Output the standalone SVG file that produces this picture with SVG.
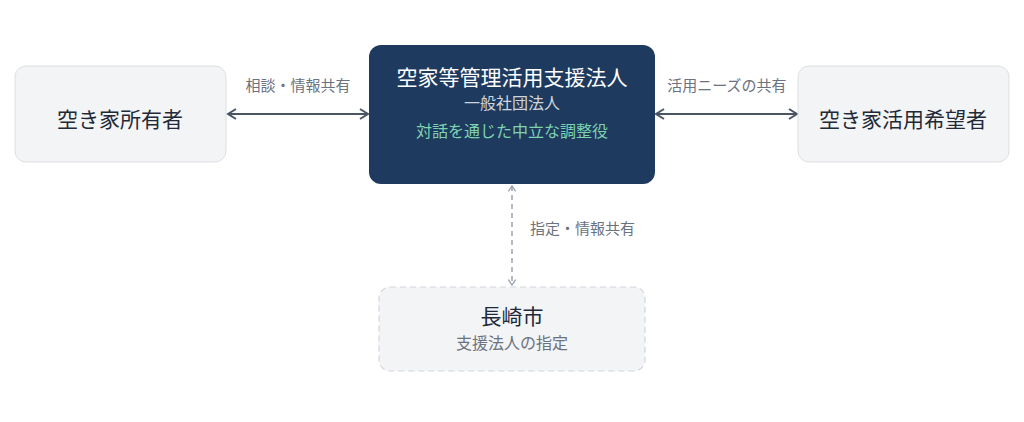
<svg xmlns="http://www.w3.org/2000/svg" width="1024" height="422" viewBox="0 0 1024 422">
<defs>
<style>
text{font-family:"Noto Sans CJK JP","Noto Sans",sans-serif;text-anchor:middle}
.box{fill:#f3f4f6;stroke:#dcdfe4;stroke-width:1}
.main{fill:#1e3a5f}
.dash{fill:#f3f4f6;stroke:#d1d5db;stroke-width:1.2;stroke-dasharray:6 4}
.t1{font-size:21px;fill:#1f2937}
.lbl{font-size:15px;fill:#6b7280}
.solid{stroke:#4b5563;stroke-width:2;fill:none}
.dl{stroke:#9ca3af;stroke-width:1.5;fill:none;stroke-dasharray:5 4}
</style>
<marker id="ah" viewBox="0 0 12 12" refX="10" refY="6" markerWidth="12" markerHeight="12" markerUnits="userSpaceOnUse" orient="auto-start-reverse">
<path d="M2,1 L10,6 L2,11" fill="none" stroke="#4b5563" stroke-width="2"/>
</marker>
<marker id="ahd" viewBox="0 0 10 10" refX="8" refY="5" markerWidth="9" markerHeight="9" markerUnits="userSpaceOnUse" orient="auto-start-reverse">
<path d="M2,1 L8,5 L2,9" fill="none" stroke="#9ca3af" stroke-width="1.5"/>
</marker>
</defs>
<g id="connectors">
<line class="solid" x1="228" y1="114" x2="368" y2="114" marker-start="url(#ah)" marker-end="url(#ah)"/>
<text class="lbl" x="298" y="91">相談・情報共有</text>
<line class="solid" x1="656" y1="114" x2="797" y2="114" marker-start="url(#ah)" marker-end="url(#ah)"/>
<text class="lbl" x="727" y="91">活用ニーズの共有</text>
<line class="dl" x1="512" y1="186" x2="512" y2="285" marker-start="url(#ahd)" marker-end="url(#ahd)"/>
<text class="lbl" x="530" y="234" style="text-anchor:start">指定・情報共有</text>
</g>
<g id="owner">
<rect class="box" x="15" y="66" width="211" height="96" rx="11"/>
<text class="t1" x="120" y="127">空き家所有者</text>
</g>
<g id="corp">
<rect class="main" x="369" y="45" width="286" height="139" rx="12"/>
<text x="512" y="85" style="font-size:21px;fill:#ffffff">空家等管理活用支援法人</text>
<text x="512" y="109" style="font-size:16px;fill:#d1d5db">一般社団法人</text>
<text x="512" y="137" style="font-size:16px;fill:#7dd3b0">対話を通じた中立な調整役</text>
</g>
<g id="seeker">
<rect class="box" x="798" y="66" width="211" height="96" rx="11"/>
<text class="t1" x="903" y="127">空き家活用希望者</text>
</g>
<g id="city">
<rect class="dash" x="379" y="287" width="266" height="84" rx="11"/>
<text x="512" y="324" style="font-size:21px;fill:#1f2937">長崎市</text>
<text x="512" y="349" style="font-size:16px;fill:#6b7280">支援法人の指定</text>
</g>
</svg>
